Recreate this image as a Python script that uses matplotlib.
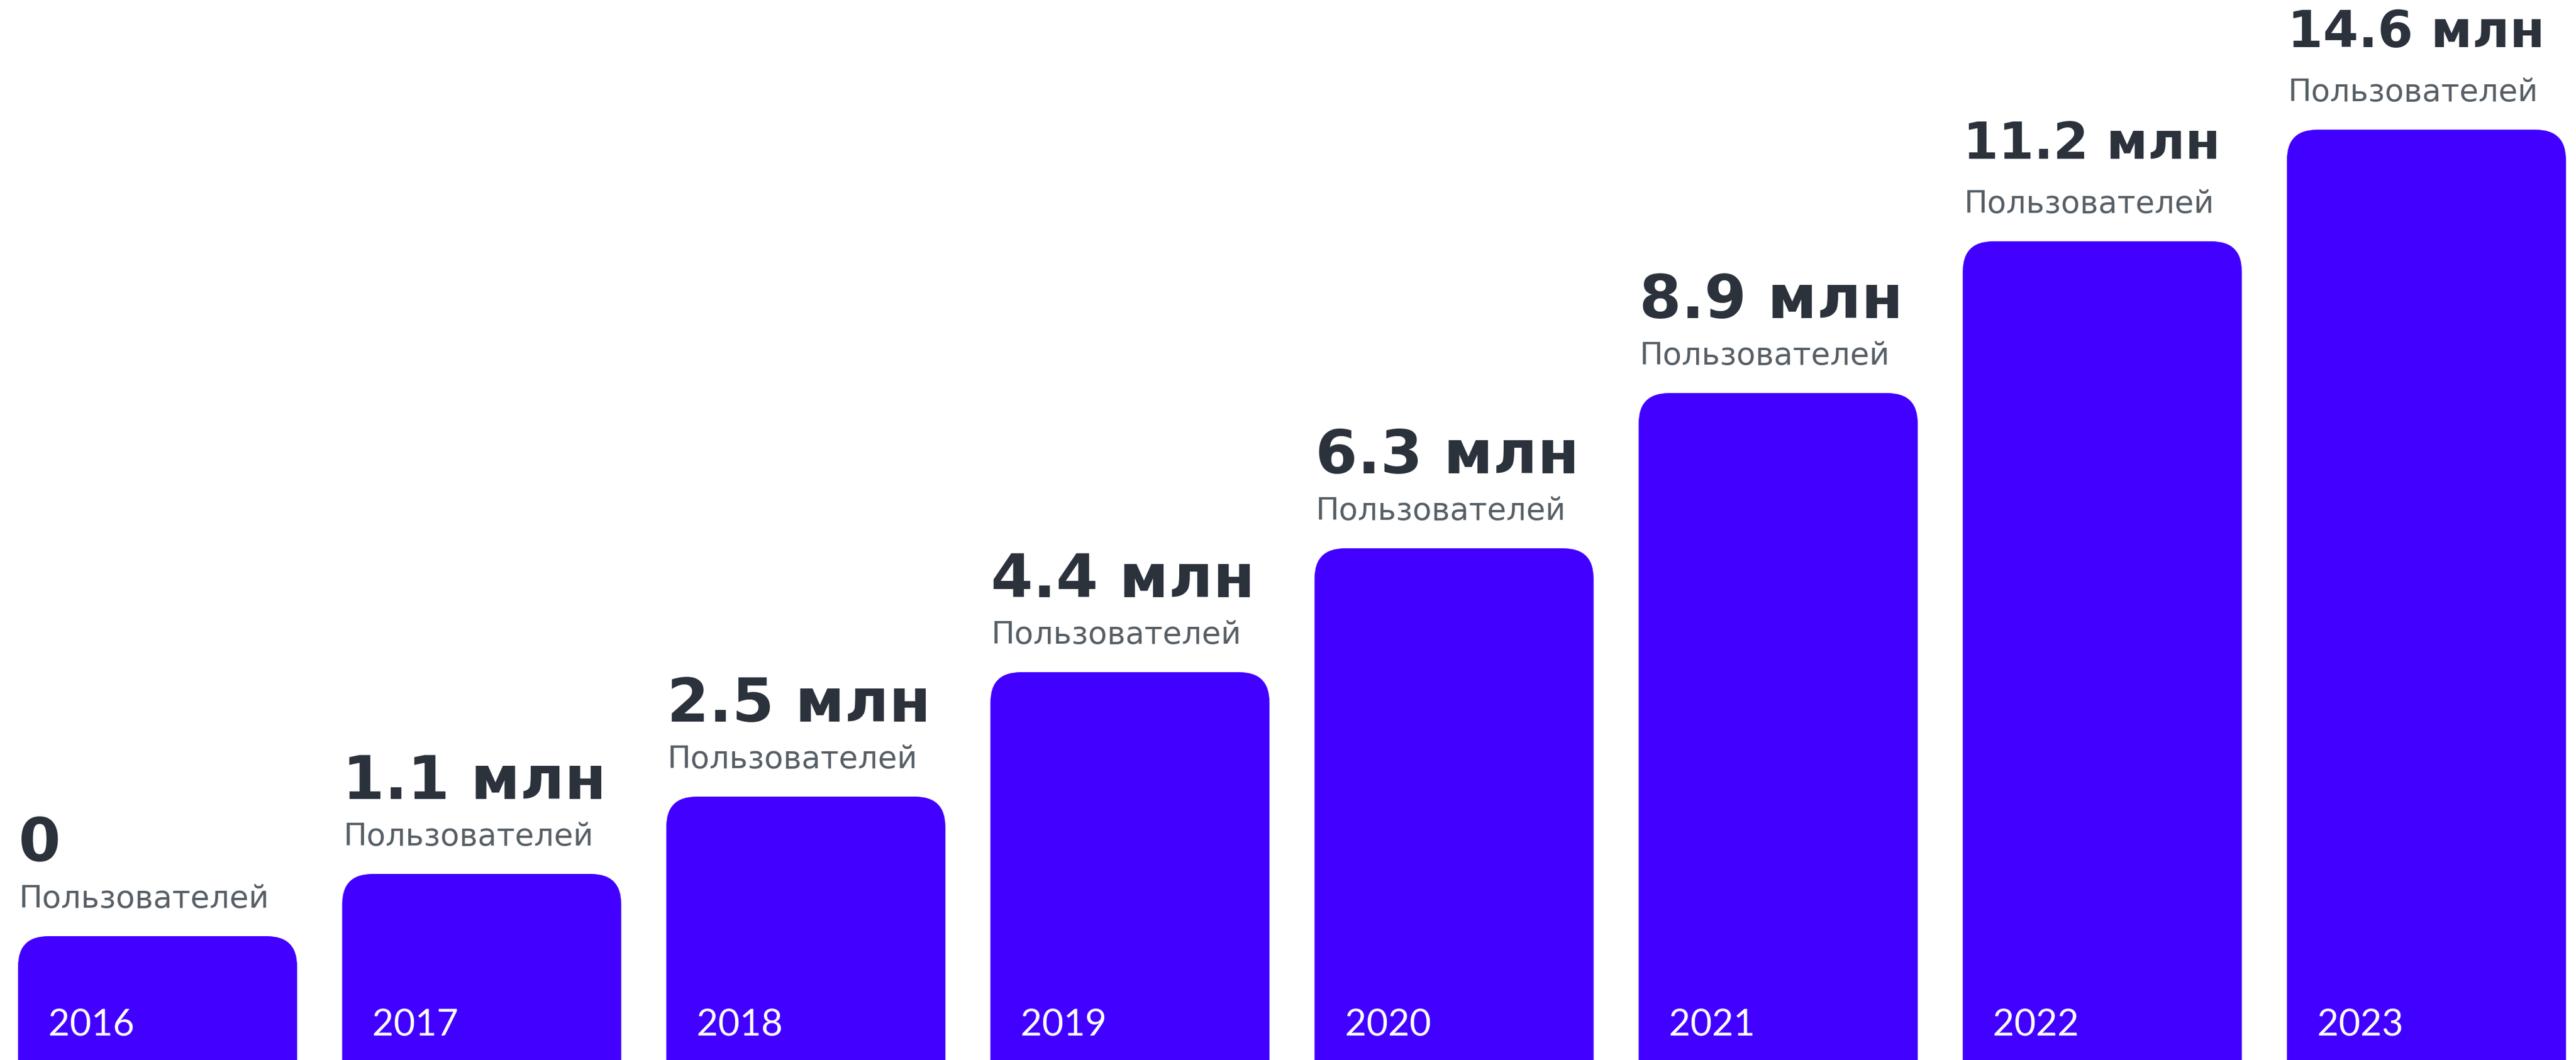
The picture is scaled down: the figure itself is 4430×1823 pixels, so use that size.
import matplotlib
matplotlib.use("Agg")
import matplotlib.pyplot as plt
from matplotlib.patches import FancyBboxPatch

# данные
years = ["2016", "2017", "2018", "2019", "2020", "2021", "2022", "2023"]
users_mln = [0, 1.1, 2.5, 4.4, 6.3, 8.9, 11.2, 14.6]
# видимая высота столбцов (в пикселях от нижнего края картинки)
bar_height = [213, 320, 453, 667, 880, 1147, 1408, 1600]
caption = "Пользователей"

BAR_COLOR = "#4100FF"
NUM_COLOR = "#2C323C"
CAP_COLOR = "#575F66"

W, H = 4430, 1824
fig = plt.figure(figsize=(W / 100, H / 100), dpi=100)
ax = fig.add_axes([0, 0, 1, 1])
ax.set_xlim(0, W)
ax.set_ylim(0, H)
ax.axis("off")

x0, pitch, width, radius = 31, 557.4, 480, 52

for i, (year, val, h) in enumerate(zip(years, users_mln, bar_height)):
    left = x0 + i * pitch
    # низ столбца уходит за край, чтобы нижние углы не скруглялись
    patch = FancyBboxPatch(
        (left, -200), width, h + 200,
        boxstyle=f"round,pad=0,rounding_size={radius}",
        facecolor=BAR_COLOR, edgecolor="none",
    )
    ax.add_patch(patch)

    ax.text(left + 52, 42, year, color="white", fontsize=46,
            family="Lato", ha="left", va="baseline")

    ax.text(left + 2, h + 50, caption, color=CAP_COLOR, fontsize=38.5,
            family="DejaVu Sans", ha="left", va="baseline")

    label = "0" if val == 0 else f"{val} млн"
    big = val < 10
    ax.text(left + 1, h + (130 if big else 143), label, color=NUM_COLOR,
            fontsize=75 if big else 63, fontweight="bold",
            family="DejaVu Sans", ha="left", va="baseline")

fig.savefig("out.png", dpi=100, facecolor="white")
